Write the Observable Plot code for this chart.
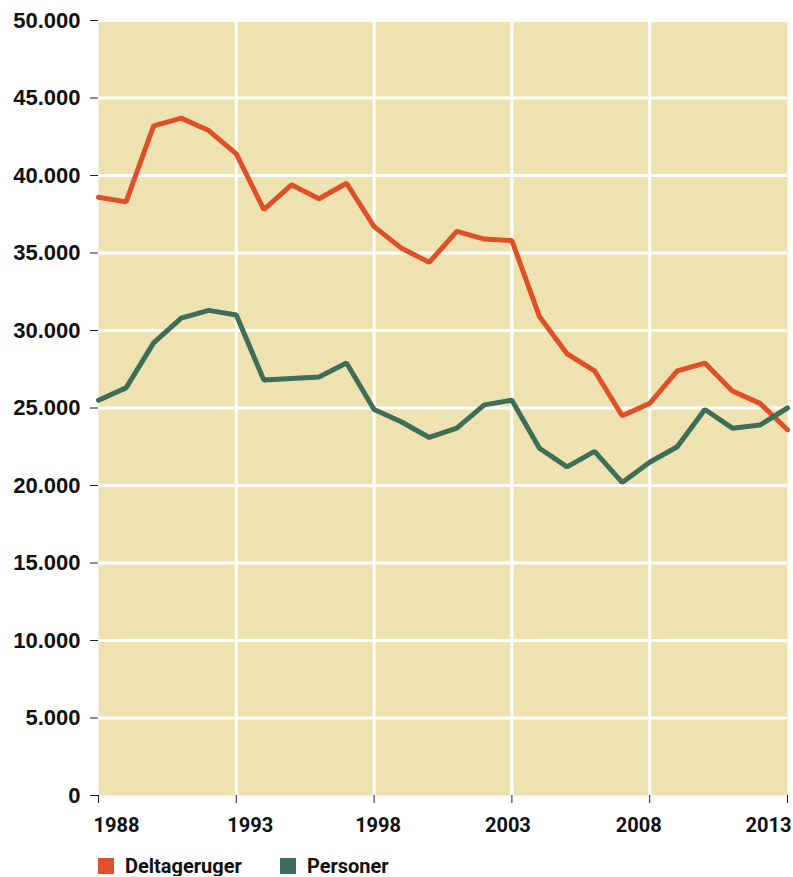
<!DOCTYPE html>
<html>
<head>
<meta charset="utf-8">
<script src="https://cdn.jsdelivr.net/npm/d3@7"></script>
<script src="https://cdn.jsdelivr.net/npm/@observablehq/plot@0.6"></script>
<style>
  body { margin: 0; background: #fff; }
  #legend { display: flex; margin-left: 98px; margin-top: 16px; font-family: Roboto, "Liberation Sans", sans-serif; font-weight: bold; font-size: 20px; line-height: 20px; color: #111; }
  .item { display: flex; align-items: center; margin-right: 38px; }
  .sw { width: 16px; height: 16px; margin-right: 11px; display: inline-block; }
</style>
</head>
<body>
<div id="chart"></div>
<div id="legend"></div>
<script>
const years = [1988,1989,1990,1991,1992,1993,1994,1995,1996,1997,1998,1999,2000,2001,2002,2003,2004,2005,2006,2007,2008,2009,2010,2011,2012,2013];
const deltageruger = [38600,38300,43200,43700,42900,41400,37800,39400,38500,39500,36700,35300,34400,36400,35900,35800,30900,28500,27400,24500,25300,27400,27900,26100,25300,23600];
const personer = [25500,26300,29200,30800,31300,31000,26800,26900,27000,27900,24900,24100,23100,23700,25200,25500,22400,21200,22200,20200,21500,22500,24900,23700,23900,25000];
const seriesNames = ["Deltageruger", "Personer"];
const seriesColors = ["#E05028", "#3E6E58"];
const yTicks = [0,5000,10000,15000,20000,25000,30000,35000,40000,45000,50000];
const xTicks = [1988,1993,1998,2003,2008,2013];
const xLabelShift = [18,14,4,-4,-11,-19];
const xGrid = [1993,1998,2003,2008];

const rows = [];
years.forEach((yr, i) => {
  rows.push({year: yr, value: deltageruger[i], series: seriesNames[0]});
  rows.push({year: yr, value: personer[i], series: seriesNames[1]});
});

const fmt = d => d3.format(",")(d).replace(/,/g, ".");

const xLabelAxes = xTicks.map((t, i) => Plot.axisX({
  ticks: [t], tickFormat: d => String(d), tickSize: 0, tickPadding: 22, dx: xLabelShift[i],
  label: null, fontSize: 20, fontWeight: "bold", fontFamily: "Roboto, 'Liberation Sans', sans-serif", fill: "#111"
}));

const chart = Plot.plot({
  width: 793,
  height: 840,
  marginLeft: 98,
  marginRight: 6,
  marginTop: 20,
  marginBottom: 45,
  style: { background: "#fff", overflow: "visible" },
  x: { domain: [1988, 2013], axis: null },
  y: { domain: [0, 50000], axis: null },
  color: { domain: seriesNames, range: seriesColors },
  marks: [
    Plot.frame({ fill: "#EFE2B1", stroke: null }),
    Plot.ruleY(yTicks.filter(d => d > 0), { stroke: "#fff", strokeWidth: 3 }),
    Plot.ruleX(xGrid, { stroke: "#fff", strokeWidth: 3 }),
    Plot.line(rows, { x: "year", y: "value", stroke: "series", z: "series", strokeWidth: 5, strokeLinejoin: "miter", strokeLinecap: "round" }),
    Plot.axisY({ ticks: yTicks, tickFormat: fmt, tickSize: 8, tickPadding: 10, stroke: "#222", label: null, fontSize: 22, fontWeight: "bold", fontFamily: "'Liberation Sans', Arial, sans-serif", fill: "#111" }),
    Plot.axisX({ ticks: xTicks, tickFormat: () => "", tickSize: 8, stroke: "#222", label: null }),
    ...xLabelAxes
  ]
});
document.getElementById("chart").appendChild(chart);

const legend = document.getElementById("legend");
seriesNames.forEach((n, i) => {
  const it = document.createElement("div");
  it.className = "item";
  it.innerHTML = `<span class="sw" style="background:${seriesColors[i]}"></span><span>${n}</span>`;
  legend.appendChild(it);
});
</script>
</body>
</html>
